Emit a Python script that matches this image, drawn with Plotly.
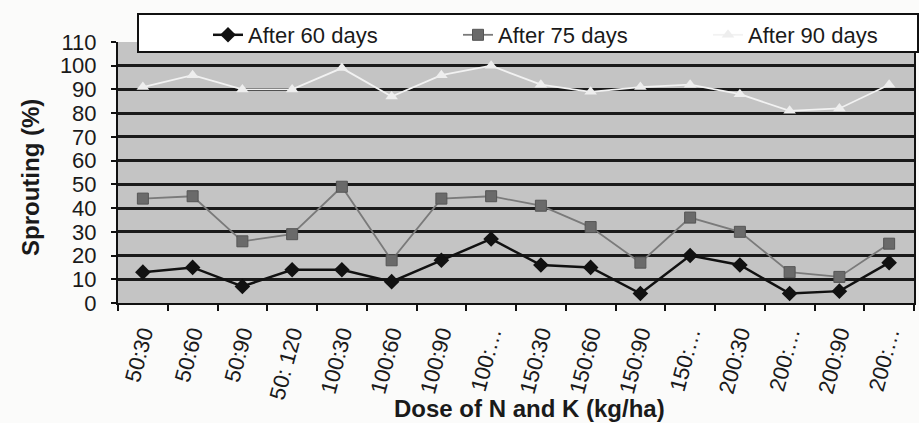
import plotly.graph_objects as go

doses = ["50:30", "50:60", "50:90", "50:120", "100:30", "100:60", "100:90", "100:120",
         "150:30", "150:60", "150:90", "150:120", "200:30", "200:60", "200:90", "200:120"]
tick_labels = ["50:30", "50:60", "50:90", "50: 120", "100:30", "100:60", "100:90", "100:…",
               "150:30", "150:60", "150:90", "150:…", "200:30", "200:…", "200:90", "200:…"]
after_60 = [13, 15, 7, 14, 14, 9, 18, 27, 16, 15, 4, 20, 16, 4, 5, 17]
after_75 = [44, 45, 26, 29, 49, 18, 44, 45, 41, 32, 17, 36, 30, 13, 11, 25]
after_90 = [91, 96, 90, 90, 99, 87, 96, 100, 92, 89, 91, 92, 88, 81, 82, 92]
y_ticks = list(range(0, 111, 10))

FONT = "Liberation Sans, Arial, sans-serif"
W, H = 919, 423
L, R, T, B = 118, 5, 42, 120
PW, PH = W - L - R, H - T - B

fig = go.Figure()
fig.add_trace(go.Scatter(
    x=doses, y=after_60, name="After 60 days", mode="lines+markers",
    line=dict(color="#111111", width=2.5),
    marker=dict(symbol="diamond", size=12, color="#111111"),
))
fig.add_trace(go.Scatter(
    x=doses, y=after_75, name="After 75 days", mode="lines+markers",
    line=dict(color="#7a7a7a", width=1.8),
    marker=dict(symbol="square", size=11, color="#6a6a6a",
                line=dict(color="#555555", width=1)),
))
fig.add_trace(go.Scatter(
    x=doses, y=after_90, name="After 90 days", mode="lines+markers",
    line=dict(color="#f2f2f2", width=1.8),
    marker=dict(symbol="triangle-up", size=11, color="#eeeeee"),
))

def px_x(px):
    return (px - L) / PW

def px_y(py):
    return (H - B - py) / PH

# legend frame
fig.add_shape(type="rect", xref="paper", yref="paper",
              x0=px_x(138), x1=px_x(918), y0=px_y(52), y1=px_y(14),
              fillcolor="white", line=dict(color="#111111", width=2), layer="above")

fig.add_annotation(text="<b>Sprouting (%)</b>", textangle=-90, showarrow=False,
                   xref="paper", yref="paper", x=px_x(30), y=px_y(178),
                   xanchor="center", yanchor="middle",
                   font=dict(family=FONT, size=24, color="#1a1a1a"))
fig.add_annotation(text="<b>Dose of N and K (kg/ha)</b>", showarrow=False,
                   xref="paper", yref="paper", x=px_x(529), y=px_y(409),
                   xanchor="center", yanchor="middle",
                   font=dict(family=FONT, size=24, color="#1a1a1a"))

fig.update_layout(
    width=W, height=H,
    margin=dict(l=L, r=R, t=T, b=B, pad=0, autoexpand=False),
    paper_bgcolor="#fbfbfa",
    plot_bgcolor="#c4c4c4",
    font=dict(family=FONT, size=22, color="#1a1a1a"),
    showlegend=True,
    legend=dict(orientation="h", xref="container", yref="container",
                x=208 / W, y=1 - 14 / H, xanchor="left", yanchor="top",
                bgcolor="rgba(0,0,0,0)", borderwidth=0,
                entrywidth=205, entrywidthmode="pixels",
                font=dict(family=FONT, size=22, color="#1a1a1a")),
    xaxis=dict(
        type="category", categoryorder="array", categoryarray=doses,
        range=[-0.5, len(doses) - 0.5],
        tickvals=doses, ticktext=tick_labels,
        showgrid=False, showline=True, linecolor="#111111", linewidth=2,
        ticks="outside", tickson="boundaries", ticklen=6, tickwidth=2, tickcolor="#111111",
        tickangle=-75, ticklabelstandoff=7,
        tickfont=dict(family=FONT, size=22, color="#1a1a1a"),
        zeroline=False, fixedrange=True, automargin=False,
    ),
    yaxis=dict(
        range=[0, 110], tickvals=y_ticks, ticktext=[str(v) for v in y_ticks],
        showgrid=True, gridcolor="#1a1a1a", gridwidth=2.5,
        showline=True, linecolor="#111111", linewidth=2, mirror=True,
        ticks="outside", ticklen=5, tickwidth=2, tickcolor="#111111",
        ticklabelstandoff=10,
        tickfont=dict(family=FONT, size=22, color="#1a1a1a"),
        zeroline=False, fixedrange=True, automargin=False,
    ),
)

fig.write_html("out.html")
